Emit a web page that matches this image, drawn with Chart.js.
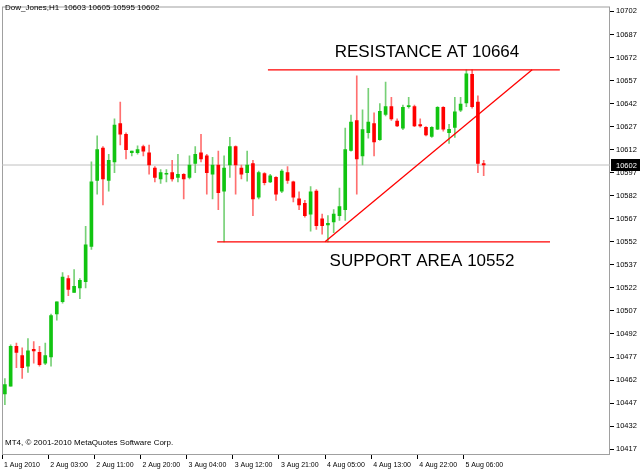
<!DOCTYPE html>
<html><head><meta charset="utf-8">
<script src="https://cdn.jsdelivr.net/npm/chart.js@4/dist/chart.umd.min.js"></script>
<style>html,body{margin:0;padding:0;background:#fff}#c{display:block}</style>
</head><body>
<div style="width:640px;height:472px"><canvas id="c" width="640" height="472"></canvas></div>
<script>
const openP=[10453,10458,10484,10478,10471,10482,10480,10473,10477,10505,10513,10528,10519,10522,10526,10549,10592,10613,10592,10604,10629,10622,10610,10610,10614,10610,10600,10593,10596,10597,10594,10596,10594,10603,10610,10608,10596,10602,10585,10602,10614,10600,10597,10603,10581,10596.5,10591,10594,10585,10597,10591,10580,10577,10570,10585,10567,10563,10565,10569,10573,10611.5,10631,10608,10623,10629,10618.5,10635,10640,10630.6,10626,10640,10640,10628.3,10626.6,10620.6,10625.3,10639.5,10623,10626.4,10637.7,10642.5,10661,10643,10603];
const highP=[10463,10485,10486,10483,10489,10487,10484,10486,10505,10513,10532,10530,10534,10528,10562,10604,10621,10614,10609,10632,10643,10623,10611,10614.5,10615,10615,10601,10599,10599,10605,10609,10596.5,10608,10614,10622,10609,10607,10611,10608,10620,10614.5,10602,10611,10605,10598,10597,10596,10594.5,10599,10601,10591.5,10584.5,10579,10588,10586,10570,10569,10573,10587,10626,10634.5,10660,10638,10652,10636,10642,10656,10646,10632,10641,10646,10641,10632,10627,10627,10640,10640,10628.5,10646,10646,10664,10664,10647,10605];
const lowP=[10446,10458,10470,10463,10467,10473,10471,10472,10471,10501,10512,10517,10519,10515,10522,10547,10583,10576,10585,10597,10615,10606,10608,10609,10608,10596,10591,10590,10591,10591.5,10591,10580,10593,10597,10604,10583,10580,10573,10552,10594,10583,10593,10591.5,10569,10580,10589,10590.5,10579,10584,10590,10578,10573,10568,10559,10560,10557,10552,10558,10566,10566,10611,10583,10602,10619.5,10608,10618,10634,10631,10627,10625,10639,10627,10626.6,10621,10620,10625,10624,10616,10620,10636.7,10640,10639,10597,10595];
const closeP=[10459,10484,10480,10470,10481,10481,10472,10478,10504,10513,10529,10521,10523,10527,10550,10591,10612,10593,10605,10628,10622,10612,10611,10612,10611,10602,10594,10597,10596.5,10593,10596,10593,10602,10609,10606,10597,10602,10584,10600,10614,10602,10596,10602,10580,10597,10590.5,10595,10583,10598,10592,10581,10576,10569,10584.5,10562.5,10562.5,10564,10570,10575,10612,10630,10606,10625,10630,10617,10637,10640,10632,10627.4,10639.5,10640.5,10627.4,10627.4,10621.6,10626.6,10639.5,10625.3,10625.3,10636.7,10641.6,10661.4,10640,10603,10602];
const xTickIdx=[0,8,16,24,32,40,48,56,64,72,80];
const xTickLabels=["1 Aug 2010","2 Aug 03:00","2 Aug 11:00","2 Aug 20:00","3 Aug 04:00","3 Aug 12:00","3 Aug 21:00","4 Aug 05:00","4 Aug 13:00","4 Aug 22:00","5 Aug 06:00"];
const yTicks=[10417,10432,10447,10462,10477,10492,10507,10522,10537,10552,10567,10582,10597,10612,10627,10642,10657,10672,10687,10702];
const resistance=10664, support=10552, lastPrice=10602;
const resLine=[{x:45.6,y:resistance},{x:96.2,y:resistance}];
const supLine=[{x:36.8,y:support},{x:94.5,y:support}];
const trendLine=[{x:55.5,y:support},{x:91.4,y:resistance}];
const priceLine=[{x:-0.5,y:lastPrice},{x:104.9,y:lastPrice}];

const up=openP.map((o,i)=>closeP[i]>=o);
const wick=openP.map((o,i)=>({x:i,y:[lowP[i],highP[i]]}));
const body=openP.map((o,i)=>({x:i,y:[Math.min(o,closeP[i]),Math.max(o,closeP[i])]}));
const F='"Liberation Sans", Arial, sans-serif';

const deco={id:'deco',
 beforeDatasetsDraw(c){const a=c.chartArea,x=c.ctx;x.save();x.strokeStyle='#a0a0a0';x.lineWidth=1;
  x.strokeRect(a.left+0.5,a.top+0.5,a.right-a.left-1,a.bottom-a.top-1);x.restore();},
 afterDraw(c){const x=c.ctx,a=c.chartArea,ys=c.scales.y,xs=c.scales.x;x.save();
  x.fillStyle='#000';x.font='8px '+F;x.textBaseline='middle';x.textAlign='left';
  x.fillText('Dow_Jones,H1  10603 10605 10595 10602',5,8);
  x.fillText('MT4, \u00a9 2001-2010 MetaQuotes Software Corp.',5,443);
  x.font='7px '+F;
  xTickIdx.forEach((v,i)=>{x.fillText(xTickLabels[i],Math.max(a.left,xs.getPixelForValue(v-0.5))+2,465);});
  x.font='17px '+F;x.textAlign='center';
  x.fillText('RESISTANCE AT 10664',427,52);
  x.fillText('SUPPORT AREA 10552',422,261);
  const py=Math.round(ys.getPixelForValue(lastPrice));
  x.fillStyle='#000';x.fillRect(a.right+1,py-6,29,12);
  x.fillStyle='#fff';x.font='7.5px '+F;x.textAlign='left';x.fillText(String(lastPrice),a.right+6,py+0.5);
  x.restore();}};

new Chart(document.getElementById('c'),{
 data:{datasets:[
  {type:'line',data:priceLine,borderColor:'#c0c0c0',borderWidth:1,pointRadius:0,order:5},
  {type:'bar',data:wick,backgroundColor:up.map(u=>u?'#77d077':'#ff7070'),barThickness:1,grouped:false,order:4},
  {type:'bar',data:body,backgroundColor:up.map(u=>u?'#11c411':'#ff0000'),barThickness:3,minBarLength:1,grouped:false,order:3},
  {type:'line',data:resLine,borderColor:'#ff0000',borderWidth:1.3,pointRadius:0,order:1},
  {type:'line',data:supLine,borderColor:'#ff0000',borderWidth:1.3,pointRadius:0,order:1},
  {type:'line',data:trendLine,borderColor:'#ff0000',borderWidth:1.3,pointRadius:0,order:1}
 ]},
 options:{responsive:false,animation:false,devicePixelRatio:1,
  layout:{padding:{left:2,top:2,right:0,bottom:0}},
  plugins:{legend:{display:false},tooltip:{enabled:false}},
  scales:{
   x:{type:'linear',min:-0.5,max:104.9,offset:false,
    afterFit(s){s.height=17;s.paddingLeft=0;s.paddingRight=0;},
    afterBuildTicks(s){s.ticks=xTickIdx.map(v=>({value:Math.max(-0.5,v-0.5)}));},
    grid:{drawOnChartArea:false,tickLength:4,color:'#000',offset:false},border:{display:false},
    ticks:{autoSkip:false,maxRotation:0,display:true,color:'rgba(0,0,0,0)',font:{size:1},callback:()=>''}},
   y:{position:'right',min:10413.2,max:10705.2,
    afterFit(s){s.width=30;},
    afterBuildTicks(s){s.ticks=yTicks.map(v=>({value:v}));},
    grid:{drawOnChartArea:false,tickLength:4,color:'#000'},border:{display:false},
    ticks:{padding:2,color:'#000',font:{family:F,size:7.5},callback:v=>String(v)}}
  }},
 plugins:[deco]});
</script></body></html>
